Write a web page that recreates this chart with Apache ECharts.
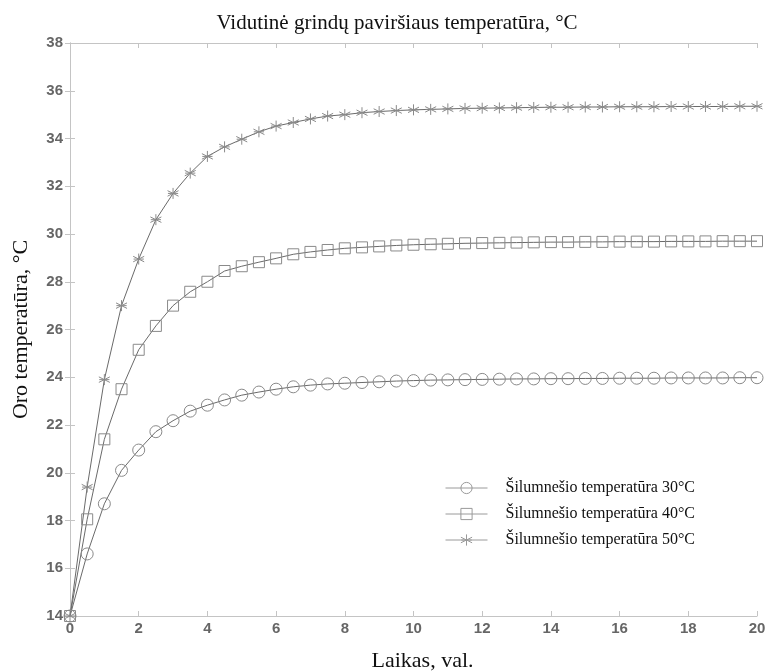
<!DOCTYPE html>
<html>
<head>
<meta charset="utf-8">
<script src="https://cdn.jsdelivr.net/npm/echarts@6/dist/echarts.min.js"></script>
<style>
  html, body { margin: 0; padding: 0; background: #fff; }
  #chart { width: 770px; height: 671px; }
</style>
</head>
<body>
<div id="chart"></div>
<script>
// time, h
const hours = [0, 0.5, 1, 1.5, 2, 2.5, 3, 3.5, 4, 4.5, 5, 5.5, 6, 6.5, 7, 7.5, 8, 8.5, 9, 9.5,
    10, 10.5, 11, 11.5, 12, 12.5, 13, 13.5, 14, 14.5, 15, 15.5, 16, 16.5, 17, 17.5, 18, 18.5, 19, 19.5, 20];

const t30 = [14, 16.6, 18.7, 20.1, 20.95, 21.72, 22.18, 22.58, 22.83, 23.05, 23.25, 23.38, 23.5, 23.6,
    23.67, 23.72, 23.75, 23.78, 23.81, 23.84, 23.86, 23.88, 23.89, 23.9, 23.91, 23.92, 23.93, 23.93,
    23.94, 23.94, 23.95, 23.95, 23.96, 23.96, 23.96, 23.97, 23.97, 23.97, 23.97, 23.98, 23.98];

const t40 = [14, 18.05, 21.4, 23.5, 25.15, 26.15, 27.0, 27.58, 28.0, 28.45, 28.65, 28.82, 28.98, 29.15,
    29.25, 29.33, 29.4, 29.44, 29.48, 29.52, 29.55, 29.57, 29.59, 29.61, 29.62, 29.63, 29.64, 29.65,
    29.66, 29.66, 29.67, 29.67, 29.68, 29.68, 29.68, 29.69, 29.69, 29.69, 29.7, 29.7, 29.7];

const t50 = [14, 19.4, 23.9, 27.0, 28.95, 30.6, 31.7, 32.55, 33.25, 33.65, 33.97, 34.28, 34.52, 34.67,
    34.82, 34.94, 35.0, 35.08, 35.13, 35.17, 35.2, 35.22, 35.24, 35.26, 35.27, 35.28, 35.29, 35.3,
    35.31, 35.31, 35.32, 35.32, 35.33, 35.33, 35.33, 35.34, 35.34, 35.34, 35.34, 35.35, 35.35];

const names = ['Šilumnešio temperatūra 30°C', 'Šilumnešio temperatūra 40°C', 'Šilumnešio temperatūra 50°C'];
const xTicks = [0, 2, 4, 6, 8, 10, 12, 14, 16, 18, 20];
const yTicks = [14, 16, 18, 20, 22, 24, 26, 28, 30, 32, 34, 36, 38];

const asterisk = 'path://M5,0L5,10M0.7,2.5L9.3,7.5M0.7,7.5L9.3,2.5M1,5L9,5';

const lineColor = '#6a6a6a';
const markColor = '#8a8a8a';
const boxColor = '#c4c4c4';
const serif = '"Liberation Serif", "DejaVu Serif", serif';
const sans = '"Liberation Sans", Arial, sans-serif';

function pairs(vals) {
    return hours.map((h, i) => [h, vals[i]]);
}

function makeSeries(name, vals, symbol, size) {
    return {
        name: name,
        type: 'line',
        data: pairs(vals),
        symbol: symbol,
        symbolSize: size,
        showAllSymbol: true,
        lineStyle: { color: lineColor, width: 1 },
        itemStyle: { color: 'rgba(0,0,0,0)', borderColor: markColor, borderWidth: 1 },
        emphasis: { disabled: true },
        animation: false
    };
}

const chart = echarts.init(document.getElementById('chart'));

const sideAxis = {
    axisLine: { show: true, lineStyle: { color: boxColor, width: 1 } },
    axisTick: { show: true, inside: true, length: 5, lineStyle: { color: boxColor } },
    axisLabel: { show: false },
    splitLine: { show: false }
};

chart.setOption({
    backgroundColor: '#fff',
    title: {
        text: 'Vidutinė grindų paviršiaus temperatūra, °C',
        left: 392,
        textAlign: 'center',
        top: 8,
        textStyle: { fontFamily: serif, fontSize: 21, fontWeight: 'normal', color: '#111' }
    },
    legend: {
        orient: 'vertical',
        left: 440,
        top: 475,
        itemWidth: 42,
        itemHeight: 14,
        itemGap: 10,
        data: names,
        lineStyle: { width: 1, color: '#9a9a9a' },
        itemStyle: { color: 'rgba(0,0,0,0)', borderColor: '#9a9a9a', borderWidth: 1 },
        textStyle: { fontFamily: serif, fontSize: 16, lineHeight: 16, color: '#111', padding: [0, 0, 0, 13] }
    },
    grid: { left: 70, right: 13, top: 43, bottom: 55, outerBoundsMode: 'none', containLabel: false },
    xAxis: [
        {
            type: 'value',
            min: 0, max: 20, interval: 2,
            name: 'Laikas, val.',
            nameLocation: 'middle',
            nameGap: 34,
            nameTextStyle: { fontFamily: serif, fontSize: 22, color: '#111', padding: [0, 0, 0, 18] },
            axisLine: { show: true, onZero: false, lineStyle: { color: boxColor, width: 1 } },
            axisTick: { show: true, inside: true, length: 5, lineStyle: { color: boxColor } },
            axisLabel: {
                fontFamily: sans, fontSize: 15, fontWeight: 'bold', color: '#666', margin: 5,
                formatter: v => xTicks.includes(v) ? String(v) : ''
            },
            splitLine: { show: false }
        },
        Object.assign({ type: 'value', position: 'top', min: 0, max: 20, interval: 2 }, sideAxis)
    ],
    yAxis: [
        {
            type: 'value',
            min: 14, max: 38, interval: 2,
            name: 'Oro temperatūra, °C',
            nameLocation: 'middle',
            nameGap: 38,
            nameTextStyle: { fontFamily: serif, fontSize: 22, color: '#111' },
            axisLine: { show: true, onZero: false, lineStyle: { color: boxColor, width: 1 } },
            axisTick: { show: true, inside: true, length: 5, lineStyle: { color: boxColor } },
            axisLabel: {
                fontFamily: sans, fontSize: 15, fontWeight: 'bold', color: '#666', margin: 7,
                formatter: v => yTicks.includes(v) ? String(v) : ''
            },
            splitLine: { show: false }
        },
        Object.assign({ type: 'value', position: 'right', min: 14, max: 38, interval: 2 }, sideAxis)
    ],
    series: [
        makeSeries(names[0], t30, 'circle', 12),
        makeSeries(names[1], t40, 'rect', 11),
        makeSeries(names[2], t50, asterisk, 11)
    ]
});
</script>
</body>
</html>
